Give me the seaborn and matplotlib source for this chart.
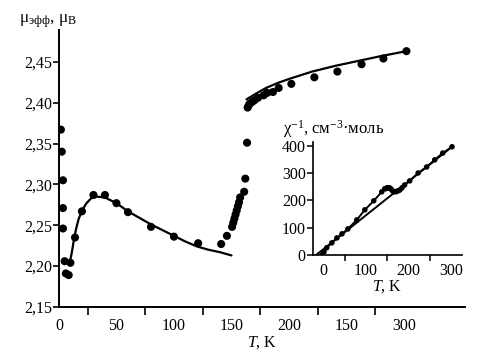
import numpy as np
import pandas as pd
import matplotlib
matplotlib.use('Agg')
import matplotlib.pyplot as plt
import seaborn as sns

# main plot: effective moment vs T (points)
T_pts = [1.7, 2.5, 3.5, 3.5, 3.5, 5, 6, 8.5, 10, 14, 20, 30, 40, 50, 60, 80, 100, 121, 141, 146,
         150.5, 151.5, 152.5, 153.5, 154.5, 155.5, 156.5, 157.5, 161, 162, 163.5, 164,
         165, 166, 168, 170, 173, 178, 181, 186, 191, 202, 222, 242, 263, 282, 302]
mu_pts = [2.367, 2.340, 2.305, 2.271, 2.246, 2.206, 2.191, 2.189, 2.204, 2.235, 2.267, 2.287, 2.287,
          2.277, 2.266, 2.248, 2.236, 2.228, 2.227, 2.237,
          2.248, 2.253, 2.258, 2.263, 2.268, 2.273, 2.278, 2.284, 2.291, 2.307, 2.351, 2.394,
          2.397, 2.399, 2.401, 2.403, 2.406, 2.409, 2.412, 2.413, 2.418, 2.423, 2.431, 2.438,
          2.447, 2.454, 2.463]

# fitted curves
T_fit_low = [9.5, 11, 13, 15, 17, 20, 24, 28, 33, 40, 50, 60, 70, 80, 90, 100, 110, 120, 130, 140, 150]
mu_fit_low = [2.205, 2.215, 2.232, 2.246, 2.257, 2.268, 2.277, 2.283, 2.285, 2.284, 2.277, 2.267,
              2.259, 2.251, 2.244, 2.237, 2.230, 2.224, 2.220, 2.217, 2.213]
T_fit_high = [163, 170, 180, 190, 200, 220, 240, 260, 280, 302]
mu_fit_high = [2.404, 2.410, 2.418, 2.424, 2.429, 2.438, 2.445, 2.451, 2.457, 2.463]

# inset: inverse susceptibility
T_chi = [-4, 0.5, 7, 19, 31, 43, 57, 78, 97, 118, 137, 144, 147, 150, 153, 156, 159, 162, 165,
         168, 172, 176, 180, 185, 191, 203, 223, 243, 262, 281, 303]
chi_inv = [0, 11, 26, 44, 62, 77, 95, 128, 165, 198, 231, 242, 243, 246, 246, 245, 241, 235, 232,
           231, 232, 235, 238, 246, 256, 271, 300, 322, 348, 373, 396]
T_chi_fit = [-21, 303]
chi_fit = [-4, 396]

x_labels = ['0', '50', '100', '150', '200', '150', '300']
y_ticks = [2.15, 2.20, 2.25, 2.30, 2.35, 2.40, 2.45]

sns.set_theme(style='ticks')
plt.rcParams['font.family'] = ['Liberation Serif', 'DejaVu Serif']
plt.rcParams['mathtext.fontset'] = 'custom'
plt.rcParams['mathtext.rm'] = 'Liberation Serif'
plt.rcParams['mathtext.it'] = 'Liberation Serif:italic'

fig = plt.figure(figsize=(4.79, 3.52), dpi=100)
ax = fig.add_axes([0.123, 0.128, 0.848, 0.787])

sns.lineplot(x=T_fit_low, y=mu_fit_low, ax=ax, color='black', lw=1.6, sort=False)
sns.lineplot(x=T_fit_high, y=mu_fit_high, ax=ax, color='black', lw=1.6, sort=False)
sns.scatterplot(x=T_pts, y=mu_pts, ax=ax, color='black', s=34, edgecolor='none', zorder=3)

ax.set_xlim(0, 353)
ax.set_ylim(2.15, 2.489)
sns.despine(ax=ax)
for sp in ax.spines.values():
    sp.set_linewidth(1.4)
    sp.set_color('black')

ax.set_xticks([0, 50, 100, 150, 200, 250, 300])
ax.set_xticklabels(x_labels)
ax.set_xticks([25, 75, 125, 175, 225, 275], minor=True)
ax.tick_params(axis='x', which='major', length=0, pad=8, labelsize=11.5, colors='black')
ax.tick_params(axis='x', which='minor', length=6, width=1.2, direction='out', colors='black')
ax.set_yticks(y_ticks)
ax.set_yticklabels([f'{v:.2f}'.replace('.', ',') for v in y_ticks])
ax.tick_params(axis='y', length=4, width=1.2, direction='out', labelsize=11.5, pad=1, colors='black')
ax.set_xlabel('$\\it{T}$, K', fontsize=11.5, labelpad=0, color='black')
ax.set_ylabel('')
fig.text(0.04, 0.935, 'μ$_{\\mathrm{эфф}}$, μ$_{\\mathrm{B}}$', fontsize=12.5, color='black')

# inset
ins = fig.add_axes([0.653, 0.276, 0.311, 0.321])
sns.lineplot(x=T_chi_fit, y=chi_fit, ax=ins, color='black', lw=1.4, sort=False)
sns.lineplot(x=T_chi, y=chi_inv, ax=ins, color='black', lw=1.4, sort=False)
sns.scatterplot(x=T_chi, y=chi_inv, ax=ins, color='black', s=16, edgecolor='none', zorder=3)
ins.set_xlim(-26, 326)
ins.set_ylim(0, 414)
sns.despine(ax=ins)
for sp in ins.spines.values():
    sp.set_linewidth(1.2)
    sp.set_color('black')
ins.set_facecolor('none')
ins.set_xticks([0, 100, 200, 300])
ins.set_xticks([50, 150, 250], minor=True)
ins.tick_params(axis='x', which='major', length=0, pad=6, labelsize=11.5, colors='black')
ins.tick_params(axis='x', which='minor', length=4, width=1.1, direction='out', colors='black')
ins.set_yticks([0, 100, 200, 300, 400])
ins.tick_params(axis='y', length=4, width=1.1, direction='out', labelsize=11.5, pad=1, colors='black')
ins.set_xlabel('$\\it{T}$, K', fontsize=11.5, labelpad=-1, color='black')
ins.set_ylabel('')
fig.text(0.59, 0.62, 'χ$^{-1}$, см$^{-3}$·моль', fontsize=12, color='black')

fig.savefig('out.png', dpi=100)
